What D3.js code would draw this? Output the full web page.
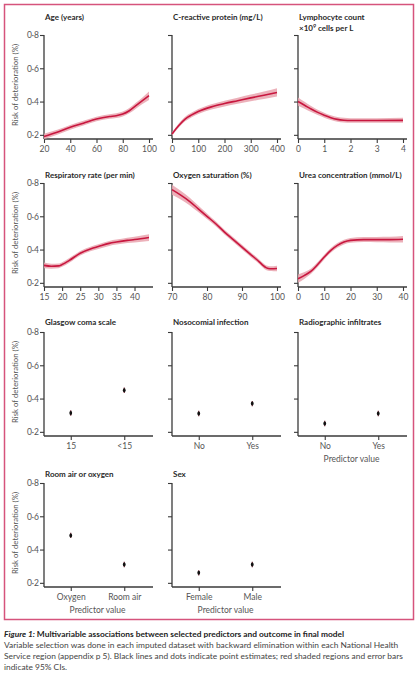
<!DOCTYPE html>
<html><head><meta charset="utf-8">
<script src="https://cdn.jsdelivr.net/npm/d3@7"></script>
<style>
body{margin:0;background:#fff;}
svg text{font-family:Lato,"Noto Sans",sans-serif;}
</style></head>
<body><svg id="c" width="418" height="680"></svg>
<script>
// ---- data ----
const ageX   = [20,30,40,50,60,70,75,80,85,90,95,100];
const ageY   = [.19,.215,.245,.27,.295,.31,.315,.325,.345,.375,.405,.435];
const ageLo  = [.173,.2,.231,.256,.281,.296,.301,.31,.329,.357,.385,.41];
const ageHi  = [.207,.23,.259,.284,.309,.324,.329,.34,.361,.393,.425,.46];

const crpX   = [0,25,50,75,100,150,200,250,300,350,400];
const crpY   = [.205,.255,.295,.32,.34,.368,.388,.405,.422,.438,.455];
const crpLo  = [.195,.243,.281,.306,.325,.352,.371,.387,.402,.416,.43];
const crpHi  = [.215,.267,.309,.334,.355,.384,.405,.423,.442,.46,.48];

const lymX   = [0,.25,.5,.75,1,1.25,1.5,1.75,2,3,4];
const lymY   = [.40,.378,.355,.335,.318,.303,.293,.288,.286,.286,.287];
const lymLo  = [.375,.357,.337,.319,.303,.289,.279,.274,.272,.272,.272];
const lymHi  = [.425,.399,.373,.351,.333,.317,.307,.302,.3,.3,.302];

const resX   = [15,17,19,20,22,25,28,30,33,35,38,40,44];
const resY   = [.305,.30,.302,.31,.335,.378,.405,.418,.437,.445,.455,.46,.472];
const resLo  = [.288,.285,.288,.296,.321,.364,.391,.404,.422,.43,.439,.443,.452];
const resHi  = [.322,.315,.316,.324,.349,.392,.419,.432,.452,.46,.471,.477,.492];

const o2X    = [70,72.5,75,77.5,80,82.5,85,87.5,90,92.5,95,96,97,98,99,100];
const o2Y    = [.76,.727,.69,.645,.60,.555,.505,.46,.415,.37,.325,.305,.29,.285,.285,.286];
const o2Lo   = [.73,.701,.667,.625,.583,.54,.491,.446,.401,.356,.311,.291,.276,.271,.27,.269];
const o2Hi   = [.79,.753,.713,.665,.617,.57,.519,.474,.429,.384,.339,.319,.304,.299,.3,.303];

const ureX   = [0,2.5,5,7.5,10,12.5,15,17.5,20,25,30,35,40];
const ureY   = [.225,.245,.27,.31,.355,.395,.425,.445,.455,.46,.46,.46,.462];
const ureLo  = [.2,.225,.254,.295,.341,.381,.411,.431,.441,.445,.444,.443,.442];
const ureHi  = [.25,.265,.286,.325,.369,.409,.439,.459,.469,.475,.476,.477,.482];

const gcsCats = ["15","<15"];        const gcsVals = [.313,.45];
const nosCats = ["No","Yes"];        const nosVals = [.31,.37];
const radCats = ["No","Yes"];        const radVals = [.25,.31];
const airCats = ["Oxygen","Room air"]; const airVals = [.485,.31];
const sexCats = ["Female","Male"];   const sexVals = [.26,.31];
const catErr = 0.016;

const yTicks = [0.2,0.4,0.6,0.8];
const yTickLabels = ["0·2","0·4","0·6","0·8"];

const titles = ["Age (years)","C-reactive protein (mg/L)","Lymphocyte count",
  "Respiratory rate (per min)","Oxygen saturation (%)","Urea concentration (mmol/L)",
  "Glasgow coma scale","Nosocomial infection","Radiographic infiltrates",
  "Room air or oxygen","Sex"];

// ---- layout ----
const svg = d3.select("#c");
const colX = [44,172,298];
const rowTop = [35,183,332,483];
const rowTitleY = [20,178,325,477];
const W = 107, H = 104;
const lineCol = "#c8173f", bandCol = "#e9a3ae", axisCol = "#3a3a3a", txtCol = "#555";

svg.append("rect").attr("x",4.5).attr("y",4.5).attr("width",409).attr("height",615)
  .attr("fill","none").attr("stroke","#d6537c").attr("stroke-width",1.5);

const panels = [
  {r:0,c:0,type:"line",x:ageX,y:ageY,lo:ageLo,hi:ageHi,dom:[20,100],ticks:[20,40,60,80,100]},
  {r:0,c:1,type:"line",x:crpX,y:crpY,lo:crpLo,hi:crpHi,dom:[0,400],ticks:[0,100,200,300,400]},
  {r:0,c:2,type:"line",x:lymX,y:lymY,lo:lymLo,hi:lymHi,dom:[0,4],ticks:[0,1,2,3,4]},
  {r:1,c:0,type:"line",x:resX,y:resY,lo:resLo,hi:resHi,dom:[15,44],ticks:[15,20,25,30,35,40]},
  {r:1,c:1,type:"line",x:o2X,y:o2Y,lo:o2Lo,hi:o2Hi,dom:[70,100],ticks:[70,80,90,100]},
  {r:1,c:2,type:"line",x:ureX,y:ureY,lo:ureLo,hi:ureHi,dom:[0,40],ticks:[0,10,20,30,40]},
  {r:2,c:0,type:"cat",cats:gcsCats,vals:gcsVals},
  {r:2,c:1,type:"cat",cats:nosCats,vals:nosVals},
  {r:2,c:2,type:"cat",cats:radCats,vals:radVals,pv:true},
  {r:3,c:0,type:"cat",cats:airCats,vals:airVals,pv:true},
  {r:3,c:1,type:"cat",cats:sexCats,vals:sexVals,pv:true}
];

panels.forEach((p,i)=>{
  const x0 = colX[p.c], y0 = rowTop[p.r];
  const g = svg.append("g").attr("transform",`translate(${x0},${y0})`);
  const y = d3.scaleLinear().domain([0.175,0.8]).range([H,0]);
  let x;
  if(p.type==="line"){
    x = d3.scaleLinear().domain(p.dom).range([0,W-2]);
  } else {
    x = d3.scalePoint().domain(p.cats).range([0,W]).padding(0.5);
  }
  // axes
  const ya = d3.axisLeft(y).tickValues(yTicks).tickSize(4).tickSizeOuter(0).tickPadding(1)
    .tickFormat((d,j)=> p.c===0 ? yTickLabels[j] : "");
  const yg = g.append("g").call(ya);
  yg.select(".domain").remove();
  const xa = (p.type==="line" ? d3.axisBottom(x).tickValues(p.ticks).tickFormat(d3.format("d")) : d3.axisBottom(x))
    .tickSize(4).tickSizeOuter(0).tickPadding(3);
  const xg = g.append("g").attr("transform",`translate(0,${H})`).call(xa);
  xg.select(".domain").remove();
  [yg,xg].forEach(a=>{
    a.selectAll("line").attr("stroke",axisCol).attr("stroke-width",1.1);
    a.selectAll("text").attr("fill",txtCol).style("font-size","8.5px");
  });
  g.append("line").attr("x1",0).attr("x2",0).attr("y1",0).attr("y2",H).attr("stroke",axisCol).attr("stroke-width",1.3);
  g.append("line").attr("x1",0).attr("x2",W+2).attr("y1",H).attr("y2",H).attr("stroke",axisCol).attr("stroke-width",1.3);

  if(p.type==="line"){
    const pts = p.x.map((v,j)=>({x:v,y:p.y[j],lo:p.lo[j],hi:p.hi[j]}));
    g.append("path").datum(pts)
      .attr("d",d3.area().x(d=>x(d.x)).y0(d=>y(d.lo)).y1(d=>y(d.hi)).curve(d3.curveMonotoneX))
      .attr("fill",bandCol).attr("opacity",0.85);
    g.append("path").datum(pts)
      .attr("d",d3.line().x(d=>x(d.x)).y(d=>y(d.y)).curve(d3.curveMonotoneX))
      .attr("fill","none").attr("stroke",lineCol).attr("stroke-width",1.6);
  } else {
    p.cats.forEach((c,j)=>{
      g.append("line").attr("x1",x(c)).attr("x2",x(c))
        .attr("y1",y(p.vals[j]-catErr)).attr("y2",y(p.vals[j]+catErr))
        .attr("stroke","#6a1a28").attr("stroke-width",1.1);
      g.append("ellipse").attr("cx",x(c)).attr("cy",y(p.vals[j])).attr("rx",1.4).attr("ry",2).attr("fill","#111");
    });
    if(p.pv){
      svg.append("text").attr("x",x0+W/2).attr("y",y0+H+26).attr("text-anchor","middle")
        .attr("fill",txtCol).style("font-size","8.5px").text("Predictor value");
    }
  }
  // title
  svg.append("text").attr("x",x0+1).attr("y",rowTitleY[p.r]).attr("fill","#2a2a2a")
    .style("font-size","8px").style("font-weight","bold").text(titles[i]);
  if(i===2){
    const t = svg.append("text").attr("x",x0+1).attr("y",rowTitleY[p.r]+11).attr("fill","#2a2a2a")
      .style("font-size","8px").style("font-weight","bold");
    t.append("tspan").text("×10");
    t.append("tspan").attr("dy",-3).style("font-size","5.5px").text("9");
    t.append("tspan").attr("dy",3).text(" cells per L");
  }
  // y label
  if(p.c===0){
    svg.append("text").attr("transform",`translate(18,${y0+H/2-2}) rotate(-90)`)
      .attr("text-anchor","middle").attr("fill",txtCol).style("font-size","7.8px")
      .text("Risk of deterioration (%)");
  }
});

// caption
const cap = svg.append("text").attr("x",4).attr("y",637).attr("fill","#222").style("font-size","8.4px").style("font-weight","bold");
cap.append("tspan").style("font-style","italic").text("Figure 1: ");
cap.append("tspan").text("Multivariable associations between selected predictors and outcome in final model");
const capLines = ["Variable selection was done in each imputed dataset with backward elimination within each National Health",
 "Service region (appendix p 5). Black lines and dots indicate point estimates; red shaded regions and error bars",
 "indicate 95% CIs."];
capLines.forEach((s,k)=>{
  svg.append("text").attr("x",4).attr("y",648+k*11).attr("fill","#444").style("font-size","8.4px").text(s);
});
</script></body></html>
